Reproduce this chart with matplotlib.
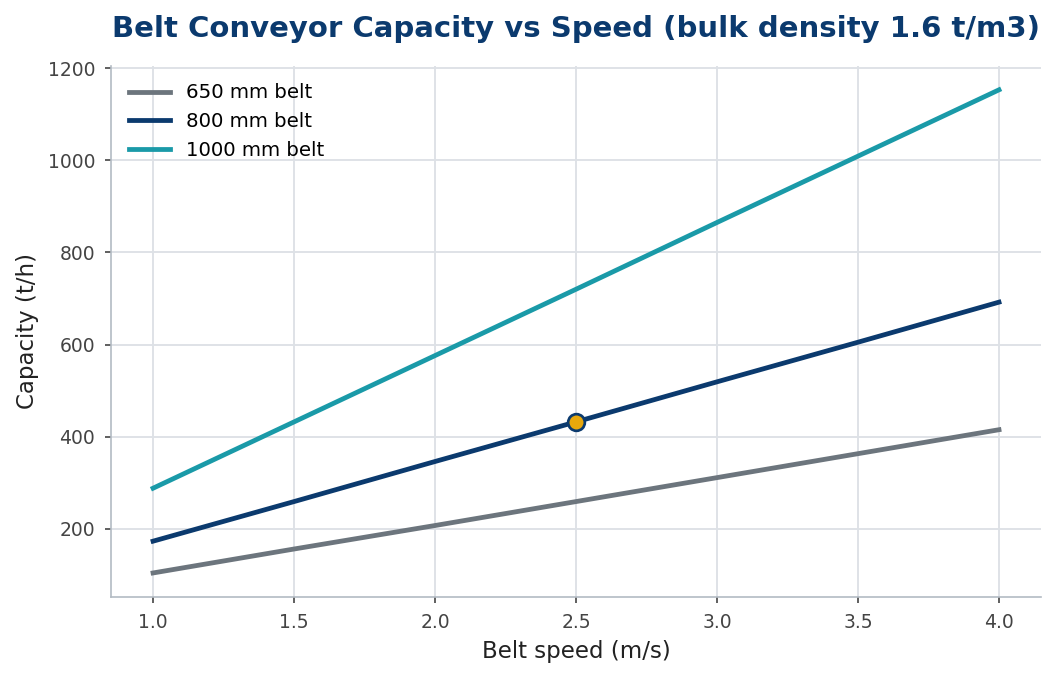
import matplotlib as mpl
mpl.use('Agg')
import matplotlib.pyplot as plt

# belt speed (m/s) and capacity (t/h) per belt width
speeds = [1.0, 1.5, 2.0, 2.5, 3.0, 3.5, 4.0]
cap_650 = [104, 156, 207, 259, 311, 363, 415]
cap_800 = [173, 259, 346, 432, 519, 605, 692]
cap_1000 = [288, 432, 576, 720, 865, 1009, 1153]
labels = ["650 mm belt", "800 mm belt", "1000 mm belt"]
highlight_speed = 2.5
highlight_cap = 432

colors = ["#6c757d", "#0b3a6e", "#1a9aa8"]


def main():
    fig, ax = plt.subplots(figsize=(1055 / 150, 677 / 150), dpi=150)
    fig.subplots_adjust(left=0.105, right=0.987, top=0.903, bottom=0.118)

    for vals, lab, c in zip([cap_650, cap_800, cap_1000], labels, colors):
        ax.plot(speeds, vals, color=c, lw=2.3, label=lab, zorder=3)
    ax.plot([highlight_speed], [highlight_cap], 'o', ms=8, color="#e8a80c",
            markeredgecolor="#0b3a6e", markeredgewidth=1.3, zorder=4)

    ax.grid(True, color="#dde1e6", lw=0.9)
    ax.set_axisbelow(True)
    for s in ["top", "right"]:
        ax.spines[s].set_visible(False)
    for s in ["left", "bottom"]:
        ax.spines[s].set_color("#b3bbc3")
    ax.tick_params(labelsize=9, colors="#444444", length=3, pad=4.5)

    ax.set_xlabel("Belt speed (m/s)", fontsize=11, color="#222222")
    ax.set_ylabel("Capacity (t/h)", fontsize=11, color="#222222")
    ax.set_title("Belt Conveyor Capacity vs Speed (bulk density 1.6 t/m3)",
                 fontsize=14, fontweight="bold", color="#0b3a6e", pad=14)
    ax.legend(loc="upper left", frameon=False, fontsize=9.5, handlelength=2.1)

    fig.savefig("out.png", dpi=150)


if __name__ == '__main__':
    main()
